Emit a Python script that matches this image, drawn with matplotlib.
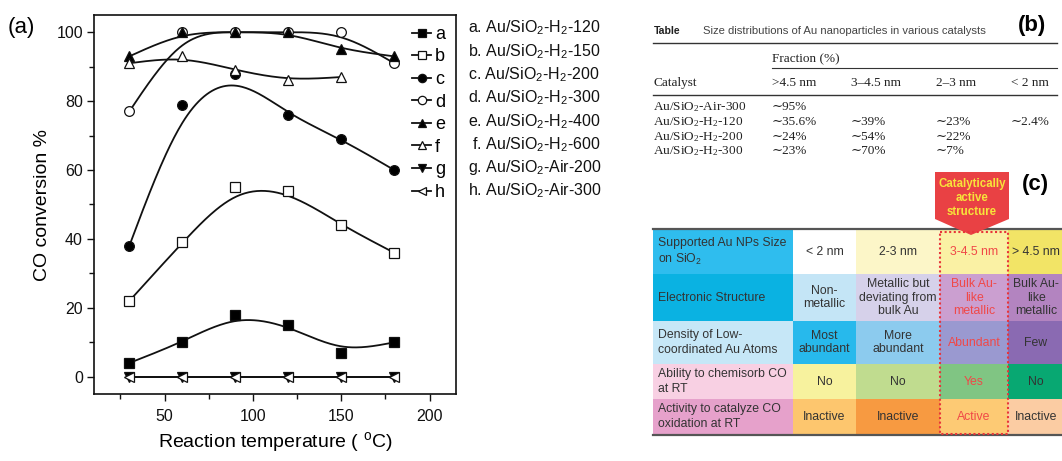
import numpy as np
import matplotlib
matplotlib.use('Agg')
import matplotlib.pyplot as plt
from matplotlib.lines import Line2D
from matplotlib.patches import Rectangle, Polygon

plt.rcParams['font.family'] = ['Liberation Sans', 'DejaVu Sans']
plt.rcParams['mathtext.default'] = 'regular'

# ---- panel (a) data: CO conversion (%) vs reaction temperature (C)
temps = [30, 60, 90, 120, 150, 180]
conv_a = [4, 10, 18, 15, 7, 10]
conv_b = [22, 39, 55, 54, 44, 36]
conv_c = [38, 79, 88, 76, 69, 60]
conv_d = [77, 100, 100, 100, 100, 91]
conv_e = [93, 100, 100, 100, 95, 93]
temps_f = [30, 60, 90, 120, 150]
conv_f = [91, 93, 89, 86, 87]
conv_g = [0, 0, 0, 0, 0, 0]
conv_h = [0, 0, 0, 0, 0, 0]
series_keys = ['a', 'b', 'c', 'd', 'e', 'f', 'g', 'h']
sample_names = ['a. Au/SiO$_2$-H$_2$-120', 'b. Au/SiO$_2$-H$_2$-150',
                'c. Au/SiO$_2$-H$_2$-200', 'd. Au/SiO$_2$-H$_2$-300',
                'e. Au/SiO$_2$-H$_2$-400', ' f. Au/SiO$_2$-H$_2$-600',
                'g. Au/SiO$_2$-Air-200', 'h. Au/SiO$_2$-Air-300']

# ---- panel (b) table
tb_title = 'Size distributions of Au nanoparticles in various catalysts'
tb_sizes = ['>4.5 nm', '3\u20134.5 nm', '2\u20133 nm', '< 2 nm']
tb_catalysts = ['Au/SiO$_2$-Air-300', 'Au/SiO$_2$-H$_2$-120',
                'Au/SiO$_2$-H$_2$-200', 'Au/SiO$_2$-H$_2$-300']
tb_fractions = [['\u223c95%', '', '', ''],
                ['\u223c35.6%', '\u223c39%', '\u223c23%', '\u223c2.4%'],
                ['\u223c24%', '\u223c54%', '\u223c22%', ''],
                ['\u223c23%', '\u223c70%', '\u223c7%', '']]

# ---- panel (c) table
tc_rows = ['Supported Au NPs Size\non SiO$_2$', 'Electronic Structure',
           'Density of Low-\ncoordinated Au Atoms', 'Ability to chemisorb CO\nat RT',
           'Activity to catalyze CO\noxidation at RT']
tc_cells = [['< 2 nm', '2-3 nm', '3-4.5 nm', '> 4.5 nm'],
            ['Non-\nmetallic', 'Metallic but\ndeviating from\nbulk Au', 'Bulk Au-\nlike\nmetallic', 'Bulk Au-\nlike\nmetallic'],
            ['Most\nabundant', 'More\nabundant', 'Abundant', 'Few'],
            ['No', 'No', 'Yes', 'No'],
            ['Inactive', 'Inactive', 'Active', 'Inactive']]
tc_colors = [['#2fbdee', '#ffffff', '#fcf6c8', '#faf1a4', '#f2e466'],
             ['#0ab2e2', '#c4e5f6', '#d6d1ea', '#cb9fd0', '#b384c0'],
             ['#c6e7f7', '#27b9ec', '#8ccbee', '#9a99d0', '#8a6ab2'],
             ['#f8d0e3', '#f7f29e', '#c0dc8f', '#80c583', '#08a872'],
             ['#e6a1cb', '#fdc66e', '#f79a41', '#fdca74', '#fbcca3']]


def bspline(x, y, n=40):
    # uniform cubic B-spline through the end points (Origin "B-Spline" line)
    p = np.column_stack([x, y]).astype(float)
    p = np.vstack([2 * p[0] - p[1], p, 2 * p[-1] - p[-2]])
    t = np.linspace(0, 1, n)[:, None]
    b0 = (1 - t) ** 3 / 6
    b1 = (3 * t ** 3 - 6 * t ** 2 + 4) / 6
    b2 = (-3 * t ** 3 + 3 * t ** 2 + 3 * t + 1) / 6
    b3 = t ** 3 / 6
    segs = [b0 * p[i] + b1 * p[i + 1] + b2 * p[i + 2] + b3 * p[i + 3] for i in range(len(p) - 3)]
    out = np.vstack(segs)
    return out[:, 0], out[:, 1]


fig = plt.figure(figsize=(10.62, 4.61), dpi=100)

ov = fig.add_axes([0, 0, 1, 1])
ov.set_xlim(0, 1062)
ov.set_ylim(461, 0)
ov.axis('off')

ax = fig.add_axes([94 / 1062, 1 - 394 / 461, 362 / 1062, 379 / 461])

series = [(temps, conv_a, 's', 'k'), (temps, conv_b, 's', 'w'),
          (temps, conv_c, 'o', 'k'), (temps, conv_d, 'o', 'w'),
          (temps, conv_e, '^', 'k'), (temps_f, conv_f, '^', 'w'),
          (temps, conv_g, 'v', 'k'), (temps, conv_h, '<', 'w')]
handles = []
for key, (xs, ys, mk, fc) in zip(series_keys, series):
    sx, sy = bspline(xs, ys)
    ax.plot(sx, sy, color='#111111', lw=1.3, zorder=2)
    ax.plot(xs, ys, ls='none', marker=mk, mfc=fc, mec='#111111', ms=7, mew=0.9, zorder=3)
    handles.append(Line2D([], [], color='#111111', lw=1.3, marker=mk, mfc=fc,
                          mec='#111111', ms=6, mew=0.9, label=key))

ax.set_xlim(10, 215)
ax.set_ylim(-5, 105)
ax.set_xticks([50, 100, 150, 200])
ax.set_xticks([25, 75, 125, 175], minor=True)
ax.set_yticks([0, 20, 40, 60, 80, 100])
ax.set_yticks([10, 30, 50, 70, 90], minor=True)
ax.tick_params(which='both', direction='out', width=1.0, labelsize=11.5, colors='#111111', pad=3)
ax.tick_params(which='major', length=5)
ax.tick_params(which='minor', length=3.5)
ax.tick_params(axis='x', pad=6)
for sp in ax.spines.values():
    sp.set_linewidth(1.2)
    sp.set_color('#111111')
ax.set_xlabel('Reaction temperature ( $^{o}$C)', fontsize=14, labelpad=4)
ax.set_ylabel('CO conversion %', fontsize=14, labelpad=4)
ax.legend(handles=handles, loc='upper right', bbox_to_anchor=(1.0, 1.0), frameon=False,
          fontsize=13, handlelength=1.1, handletextpad=0.2, labelspacing=0.31,
          borderaxespad=0.2)

ov.text(8, 27, '(a)', fontsize=16, va='center', ha='left')
for i, name in enumerate(sample_names):
    ov.text(468, 28 + i * 23.3, name, fontsize=11.5, va='center', ha='left', color='#111111')

# ---- panel (b)
serif = ['Liberation Serif', 'DejaVu Serif']
ov.text(654, 31, 'Table', fontsize=7.6, fontweight='bold', va='center', color='#222222')
ov.text(703, 31, tb_title, fontsize=8.1, va='center', color='#444444')
ov.text(1032, 25, '(b)', fontsize=16, fontweight='bold', va='center', ha='center')
ov.plot([653, 1057], [43, 43], color='#333333', lw=1.0)
ov.text(772, 59, 'Fraction (%)', family=serif, fontsize=9.5, va='center', color='#222222')
ov.plot([772, 1057], [68, 68], color='#333333', lw=0.8)
col_x = [772, 851, 936, 1011]
ov.text(653, 83, 'Catalyst', family=serif, fontsize=9.5, va='center', color='#222222')
for cx, lab in zip(col_x, tb_sizes):
    ov.text(cx, 83, lab, family=serif, fontsize=9.5, va='center', color='#222222')
ov.plot([653, 1057], [95, 95], color='#333333', lw=1.0)
for r, (cat, fr) in enumerate(zip(tb_catalysts, tb_fractions)):
    yy = 107 + r * 14.8
    ov.text(653, yy, cat, family=serif, fontsize=9.5, va='center', color='#222222')
    for cx, val in zip(col_x, fr):
        ov.text(cx, yy, val, family=serif, fontsize=9.5, va='center', color='#222222')

# ---- panel (c)
ov.add_patch(Polygon([[935, 172], [1009, 172], [1009, 219], [971, 235], [935, 219]],
                     closed=True, facecolor='#e94144', edgecolor='none', zorder=5))
ov.text(972, 198, 'Catalytically\nactive\nstructure', fontsize=8.3, fontweight='bold',
        color='#f7e43a', ha='center', va='center', linespacing=1.25, zorder=6)
ov.text(1035, 184, '(c)', fontsize=16, fontweight='bold', va='center', ha='center')

row_y = [230, 274, 321, 364, 399, 434]
col_b = [653, 793, 856, 940, 1008, 1064]
for r in range(5):
    for c in range(5):
        ov.add_patch(Rectangle((col_b[c], row_y[r]), col_b[c + 1] - col_b[c], row_y[r + 1] - row_y[r],
                               facecolor=tc_colors[r][c], edgecolor='none', zorder=1))
    ym = (row_y[r] + row_y[r + 1]) / 2
    ov.text(658, ym, tc_rows[r], fontsize=8.8, va='center', ha='left', color='#333333',
            linespacing=1.25, zorder=3)
    for c in range(4):
        xm = (col_b[c + 1] + col_b[c + 2]) / 2
        ov.text(xm, ym, tc_cells[r][c], fontsize=8.8, va='center', ha='center',
                color='#f04848' if c == 2 else '#333333', linespacing=1.2, zorder=3)
ov.plot([653, 1062], [229, 229], color='#555555', lw=1.6, zorder=4)
ov.plot([653, 1062], [435, 435], color='#555555', lw=1.6, zorder=4)
ov.add_patch(Rectangle((940, 232), 68, 202, facecolor='none', edgecolor='#e8353a',
                       lw=1.5, ls=(0, (1, 1.2)), zorder=7))

fig.savefig('out.png', dpi=100)
